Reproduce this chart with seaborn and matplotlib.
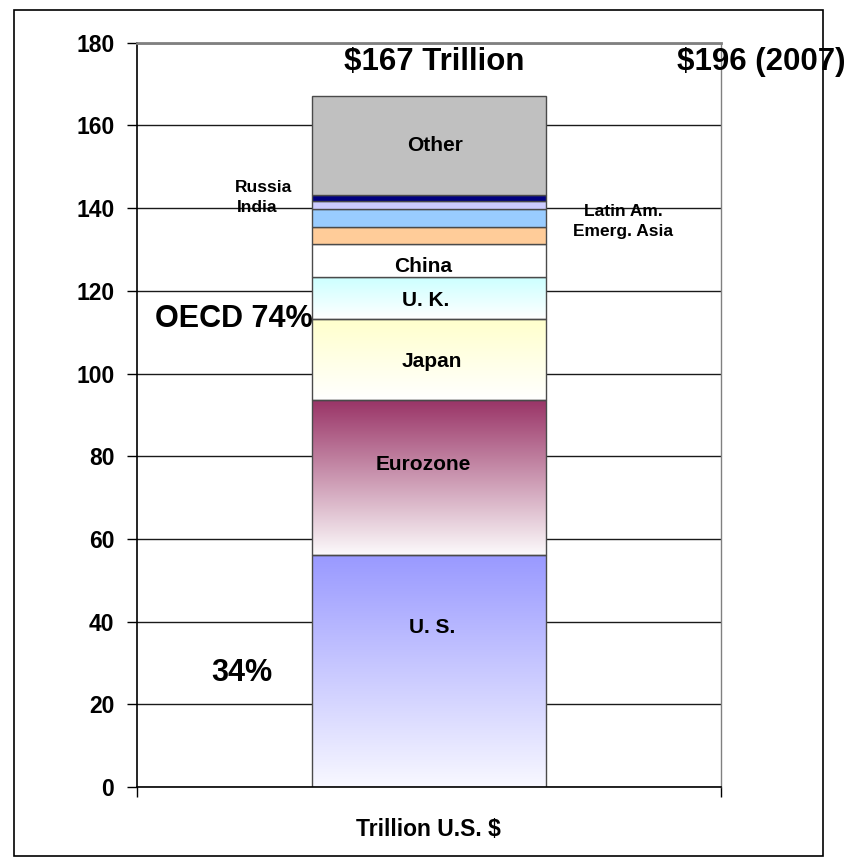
import numpy as np
import pandas as pd
import matplotlib
matplotlib.use("Agg")
import matplotlib.pyplot as plt
from matplotlib.colors import LinearSegmentedColormap, to_rgb
from matplotlib.patches import Rectangle
import seaborn as sns

# Global financial assets by region, stacked from the bottom up (trillion US$)
category = "Trillion U.S. $"
regions = ["U. S.", "Eurozone", "Japan", "U. K.", "China",
           "Emerg. Asia", "Latin Am.", "India", "Russia", "Other"]
assets = [56.1, 37.6, 19.5, 10.1, 8.0, 4.2, 4.3, 1.8, 1.6, 23.8]
total_label = "$167 Trillion"
prior_label = "$196 (2007)"
oecd_label = "OECD 74%"
us_share_label = "34%"
y_ticks = [0, 20, 40, 60, 80, 100, 120, 140, 160, 180]

fill_colors = ["#9999FF", "#993366", "#FFFFCC", "#CCFFFF", "#FFFFFF",
               "#FFCC99", "#99CCFF", "#CCCCFF", "#000080", "#C0C0C0"]
faded = {"U. S.": "#F8F8FF", "Eurozone": "#FCFAFB", "Japan": "#FFFFFF", "U. K.": "#FFFFFF"}

sns.set_theme(style="white")
plt.rcParams["font.family"] = ["Liberation Sans", "DejaVu Sans"]
plt.rcParams["font.weight"] = "bold"
for key in ["text.color", "axes.labelcolor", "xtick.color", "ytick.color"]:
    plt.rcParams[key] = "black"

fig = plt.figure(figsize=(8.57, 8.60), dpi=100)
ax = fig.add_axes([0.1593, 0.0847, 0.682, 0.8657])

df = pd.DataFrame({"region": regions, "assets": assets})
df["base"] = df["assets"].cumsum() - df["assets"]

for (_, row), col in zip(df.iterrows(), fill_colors):
    sns.barplot(x=[category], y=[row["assets"]], bottom=row["base"],
                color=col, saturation=1, width=0.4, ax=ax,
                edgecolor="#4a4a4a", linewidth=1.0, zorder=2)
    patch = ax.patches[-1]
    if row["region"] in faded:
        # vertical fade from the region colour (top) to near white (bottom)
        cmap = LinearSegmentedColormap.from_list(
            "fade", [to_rgb(faded[row["region"]]), to_rgb(col)])
        grad = np.linspace(0, 1, 256).reshape(-1, 1)
        x0, y0 = patch.get_x(), patch.get_y()
        im = ax.imshow(grad, cmap=cmap, origin="lower", aspect="auto",
                       extent=[x0, x0 + patch.get_width(), y0, y0 + patch.get_height()],
                       zorder=1.9, interpolation="bilinear")
        im.set_clip_path(patch)
        patch.set_facecolor("none")

ax.set_xlim(-0.5, 0.5)
ax.set_ylim(0, 180)
ax.set_yticks(y_ticks)
ax.set_yticklabels([str(t) for t in y_ticks], fontsize=16.5, fontweight="bold", color="black")
ax.set_xticks([0])
ax.set_xticklabels([category], fontsize=16.5, fontweight="bold", color="black")
ax.set_xticks([-0.5, 0.5], minor=True)
ax.tick_params(axis="x", which="major", length=0, pad=22)
ax.tick_params(axis="x", which="minor", length=7, width=1, color="black", direction="out", bottom=True)
ax.tick_params(axis="y", length=7, width=1, color="black", direction="out", left=True, pad=9)
ax.set_xlabel("")
ax.set_ylabel("")

ax.yaxis.grid(True, color="#1a1a1a", linewidth=1.0)
ax.xaxis.grid(False)
ax.set_axisbelow(True)
for side in ["left", "bottom"]:
    ax.spines[side].set_color("black")
    ax.spines[side].set_linewidth(1.2)
ax.spines["top"].set_color("#808080")
ax.spines["top"].set_linewidth(2.0)
ax.spines["right"].set_color("#808080")
ax.spines["right"].set_linewidth(1.0)
ax.set_facecolor("white")

# region names inside the stacked bar
inner = {"U. S.": (0.005, 38.5), "Eurozone": (-0.01, 77.9), "Japan": (0.005, 103.0),
         "U. K.": (-0.005, 117.6), "China": (-0.01, 125.9), "Other": (0.01, 155.1)}
for name, (tx, ty) in inner.items():
    ax.text(tx, ty, name, ha="center", va="center", fontsize=15, fontweight="bold",
            color="black", zorder=5)

# small regions labelled beside the bar
side_kw = dict(va="center", fontsize=12.5, fontweight="bold", color="black", zorder=5)
ax.text(-0.331, 144.9, "Russia", ha="left", **side_kw)
ax.text(-0.329, 140.1, "India", ha="left", **side_kw)
ax.text(0.333, 139.1, "Latin Am.", ha="center", **side_kw)
ax.text(0.333, 134.3, "Emerg. Asia", ha="center", **side_kw)

# headline totals and shares
ax.text(0.009, 175.3, total_label, ha="center", va="center", fontsize=22.5,
        fontweight="bold", color="black")
ax.text(0.425, 175.3, prior_label, ha="left", va="center", fontsize=22.5,
        fontweight="bold", color="black", clip_on=False)
ax.text(-0.333, 113.2, oecd_label, ha="center", va="center", fontsize=22,
        fontweight="bold", color="black", zorder=5)
ax.text(-0.32, 27.7, us_share_label, ha="center", va="center", fontsize=22,
        fontweight="bold", color="black")

# outer frame around the whole chart
fig.patches.append(Rectangle((14 / 857, 1 - 856 / 860), (823 - 14) / 857, (856 - 10) / 860,
                             transform=fig.transFigure, fill=False, edgecolor="black",
                             linewidth=1.2, zorder=0))

fig.savefig("out.png", dpi=100, facecolor="white")
